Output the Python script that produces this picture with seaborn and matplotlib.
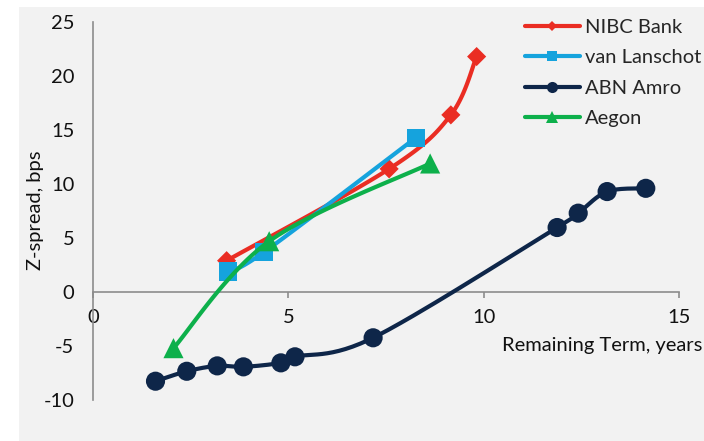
import numpy as np
import pandas as pd
import matplotlib
matplotlib.use("Agg")
import matplotlib.pyplot as plt
import seaborn as sns
from matplotlib.lines import Line2D
from matplotlib.patches import Rectangle

# ---- data ----
series_names = ["NIBC Bank", "van Lanschot", "ABN Amro", "Aegon"]
nibc_term = [3.42, 7.58, 9.16, 9.82]
nibc_spread = [2.9, 11.4, 16.4, 21.8]
lanschot_term = [3.45, 4.38, 8.27]
lanschot_spread = [1.9, 3.7, 14.3]
abn_term = [1.60, 2.40, 3.18, 3.85, 4.81, 5.17, 7.17, 11.88, 12.42, 13.16, 14.15]
abn_spread = [-8.26, -7.34, -6.84, -6.93, -6.56, -6.0, -4.24, 5.97, 7.3, 9.3, 9.6]
aegon_term = [2.06, 4.51, 8.63]
aegon_spread = [-5.2, 4.7, 11.9]
x_ticks = [0, 5, 10, 15]
y_ticks = [-10, -5, 0, 5, 10, 15, 20, 25]
x_label = "Remaining Term, years"
y_label = "Z-spread, bps"

# ---- styles ----
colors = ["#EA2D23", "#15A3DD", "#0E2649", "#0DB04B"]
markers = ["D", "s", "o", "^"]
marker_sizes = [95, 170, 190, 210]
legend_ms = [5.5, 7.5, 8, 8]
FS = 14.5

sns.set_theme(style="white")
FONT = ["Lato", "DejaVu Sans"]
plt.rcParams["font.family"] = FONT

def smooth(xs, ys, n=30):
    """Excel-style smoothed line (uniform Catmull-Rom through the points)."""
    P = np.column_stack([xs, ys]).astype(float)
    if len(P) < 3:
        return P[:, 0], P[:, 1]
    ext = np.vstack([P[0], P, P[-1]])
    out = []
    t = np.linspace(0, 1, n)[:, None]
    for i in range(1, len(ext) - 2):
        p0, p1, p2, p3 = ext[i - 1], ext[i], ext[i + 1], ext[i + 2]
        seg = 0.5 * ((2 * p1) + (-p0 + p2) * t + (2 * p0 - 5 * p1 + 4 * p2 - p3) * t ** 2
                     + (-p0 + 3 * p1 - 3 * p2 + p3) * t ** 3)
        out.append(seg if i == 1 else seg[1:])
    out = np.vstack(out)
    return out[:, 0], out[:, 1]

fig = plt.figure(figsize=(7.04, 4.41), dpi=100, facecolor="white")
fig.patches.append(Rectangle((19 / 704, 0), (704 - 19) / 704, (441 - 7) / 441,
                             transform=fig.transFigure, facecolor="#F2F2F2",
                             edgecolor="none", zorder=-10))
ax = fig.add_axes([93 / 704, 1 - 400 / 441, (679 - 93) / 704, (400 - 22) / 441])
ax.set_facecolor("none")

data = [(nibc_term, nibc_spread), (lanschot_term, lanschot_spread),
        (abn_term, abn_spread), (aegon_term, aegon_spread)]

handles = []
for i, (name, (xs, ys)) in enumerate(zip(series_names, data)):
    sx, sy = smooth(xs, ys)
    sns.lineplot(x=sx, y=sy, sort=False, estimator=None, color=colors[i],
                 linewidth=3.0, ax=ax, legend=False, zorder=3 + i)
    df = pd.DataFrame({"term": xs, "spread": ys})
    sns.scatterplot(data=df, x="term", y="spread", marker=markers[i],
                    s=marker_sizes[i], color=colors[i], edgecolor="none",
                    linewidth=0, ax=ax, legend=False, zorder=3.5 + i)
    handles.append(Line2D([0], [0], color=colors[i], linewidth=3.0,
                          marker=markers[i], markersize=legend_ms[i],
                          markeredgewidth=0, label=name))

ax.set_xlim(0, 15)
ax.set_ylim(-10, 25)
ax.set_xticks(x_ticks)
ax.set_yticks(y_ticks)
ax.set_xticklabels([str(v) for v in x_ticks])
ax.set_yticklabels([str(v) for v in y_ticks])

for s in ["top", "right"]:
    ax.spines[s].set_visible(False)
ax.spines["left"].set_position(("data", 0))
ax.spines["bottom"].set_position(("data", 0))
for s in ["left", "bottom"]:
    ax.spines[s].set_color("#8C8C8C")
    ax.spines[s].set_linewidth(1.2)
    ax.spines[s].set_zorder(1)

ax.tick_params(axis="x", direction="out", length=4, width=1.2, color="#8C8C8C",
               pad=8.5, labelsize=FS, labelcolor="#111111", bottom=True)
ax.tick_params(axis="y", length=0, pad=13.5, labelsize=FS, labelcolor="#111111")
ax.grid(False)

ax.set_xlabel(x_label, fontsize=FS, color="#111111", ha="right", va="center")
ax.xaxis.set_label_coords((702 - 93) / 586, (400 - 346) / 378)
ax.set_ylabel(y_label, fontsize=FS, color="#111111", va="center", ha="center")
ax.yaxis.set_label_coords((35 - 93) / 586, (400 - 210) / 378)

fig.legend(handles=handles, loc="upper left",
           bbox_to_anchor=(525 / 704, 1 - 19 / 441), frameon=False,
           fontsize=FS, handlelength=2.73, handletextpad=0.25,
           labelspacing=0.66, borderpad=0, borderaxespad=0)

fig.savefig("out.png", dpi=100, facecolor="white")
